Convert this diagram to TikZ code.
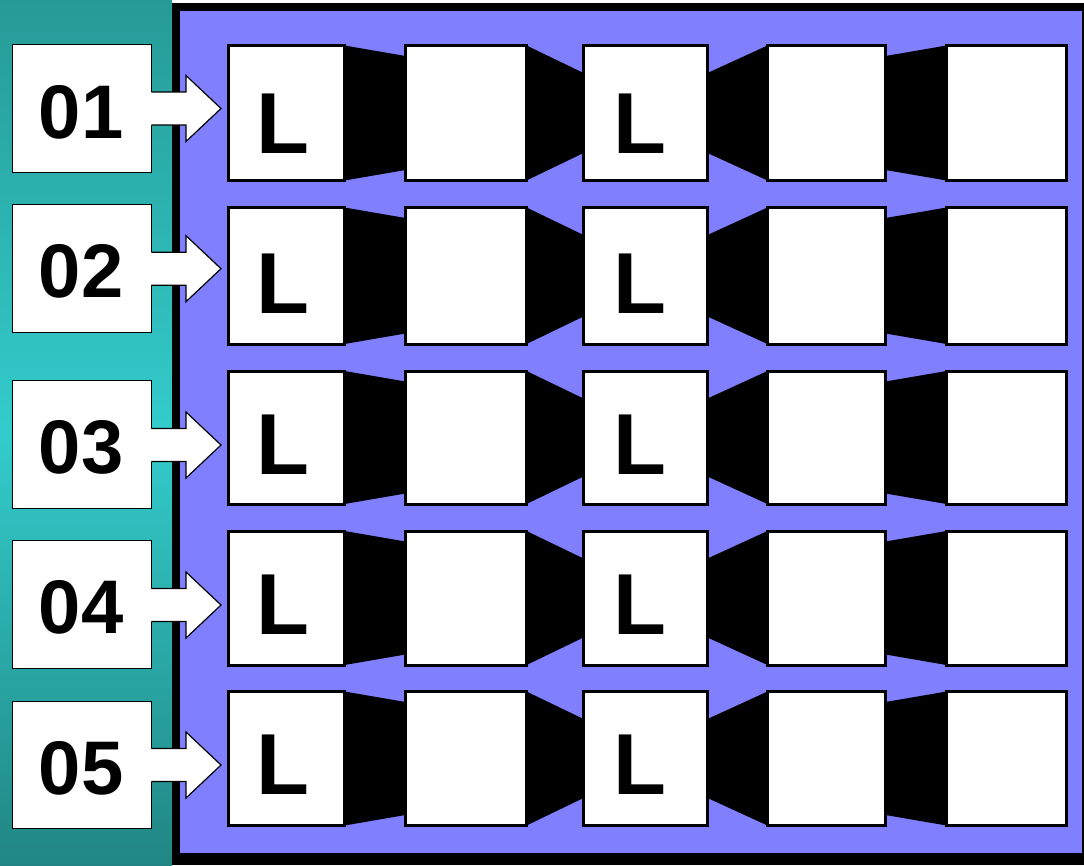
\documentclass[tikz,border=0pt]{standalone}
\usepackage{fontspec}
\setmainfont{Liberation Sans}
\usetikzlibrary{calc}
\pgfdeclarelayer{bg}
\pgfdeclarelayer{mid}
\pgfsetlayers{bg,mid,main}
\definecolor{panelblue}{HTML}{8080FF}
\definecolor{tealtop}{RGB}{38,154,150}
\definecolor{tealmid}{RGB}{51,204,204}
\definecolor{tealbot}{RGB}{33,134,131}
\begin{document}
\begin{tikzpicture}[x=1pt,y=-1pt,
  rbox/.style={draw=black,fill=white,line width=3pt,inner sep=0pt,outer sep=0pt},
  lbox/.style={draw=black,fill=white,line width=1.2pt,inner sep=0pt,outer sep=0pt,minimum width=138.8pt},
  numtxt/.style={font=\fontsize{76}{76}\selectfont\bfseries,inner sep=0pt,anchor=base west},
  ltxt/.style={font=\fontsize{86.6}{86.6}\selectfont\bfseries,inner sep=0pt,anchor=base west},
  link/.style={fill=black,draw=none},
  arrowfill/.style={fill=white,draw=none},
  arrowline/.style={draw=black,line width=1.2pt,line join=miter}
]
\useasboundingbox (0,0) rectangle (1084,865);
\begin{pgfonlayer}{bg}
  \fill[white] (0,0) rectangle (1084,865);
  \shade[top color=tealtop, bottom color=tealbot, middle color=tealmid] (0,0) rectangle (172,865);
  \fill[black] (172,3) rectangle (1084,865);
  \fill[panelblue] (180,11) rectangle (1082,853);
\end{pgfonlayer}
\foreach \ri/\ya/\yb/\la/\lb/\tp/\nb/\Lb/\lab in {
  1/44/182/44/173/108.5/138.5/153/01,
  2/206/345.5/204/333.3/268.7/297/313.3/02,
  3/369.5/505.5/380/509/445/473.3/474/03,
  4/529.5/666.5/540/669/605/633/634/04,
  5/690/827/700.7/829/765/794/794/05}{
  % right-hand boxes of the row
  \foreach \ci/\cx/\cw in {1/286.5/116, 2/466/121, 3/645.5/124, 4/826.5/118, 5/1006.5/120}{
    \node[rbox, minimum width=\cw pt, minimum height={\yb-\ya-3}] (b\ri\ci) at (\cx,{(\ya+\yb)/2}) {};
  }
  % black connectors between the boxes
  \begin{pgfonlayer}{mid}
    \fill[link] (b\ri1.north east) -- ($(b\ri2.north west)+(0,10.5)$) -- ($(b\ri2.south west)+(0,-10.5)$) -- (b\ri1.south east) -- cycle;
    \fill[link] (b\ri2.north east) -- ($(b\ri3.north west)+(0,27.5)$) -- ($(b\ri3.south west)+(0,-27.5)$) -- (b\ri2.south east) -- cycle;
    \fill[link] ($(b\ri3.north east)+(0,27.5)$) -- (b\ri4.north west) -- (b\ri4.south west) -- ($(b\ri3.south east)+(0,-27.5)$) -- cycle;
    \fill[link] ($(b\ri4.north east)+(0,10.5)$) -- (b\ri5.north west) -- (b\ri5.south west) -- ($(b\ri4.south east)+(0,-10.5)$) -- cycle;
  \end{pgfonlayer}
  % L letters
  \node[ltxt] (La\ri) at (256,\Lb) {L};
  \node[ltxt] (Lb\ri) at (613.7,\Lb) {L};
  % number label with its arrow
  \node[lbox, minimum height={\lb-\la-1.2}] (lab\ri) at (82,{(\la+\lb)/2}) {};
  \coordinate (tip\ri) at (221,\tp);
  \fill[arrowfill] (150.5,{\tp-16.5}) -- (186,{\tp-16.5}) -- (186,{\tp-33}) -- (tip\ri) -- (186,{\tp+33}) -- (186,{\tp+16.5}) -- (150.5,{\tp+16.5}) -- cycle;
  \draw[arrowline] (151.4,{\tp-16.5}) -- (186,{\tp-16.5}) -- (186,{\tp-33}) -- (tip\ri) -- (186,{\tp+33}) -- (186,{\tp+16.5}) -- (151.4,{\tp+16.5});
  \node[numtxt] (num\ri) at (38.7,\nb) {\lab};
}
\end{tikzpicture}
\end{document}
